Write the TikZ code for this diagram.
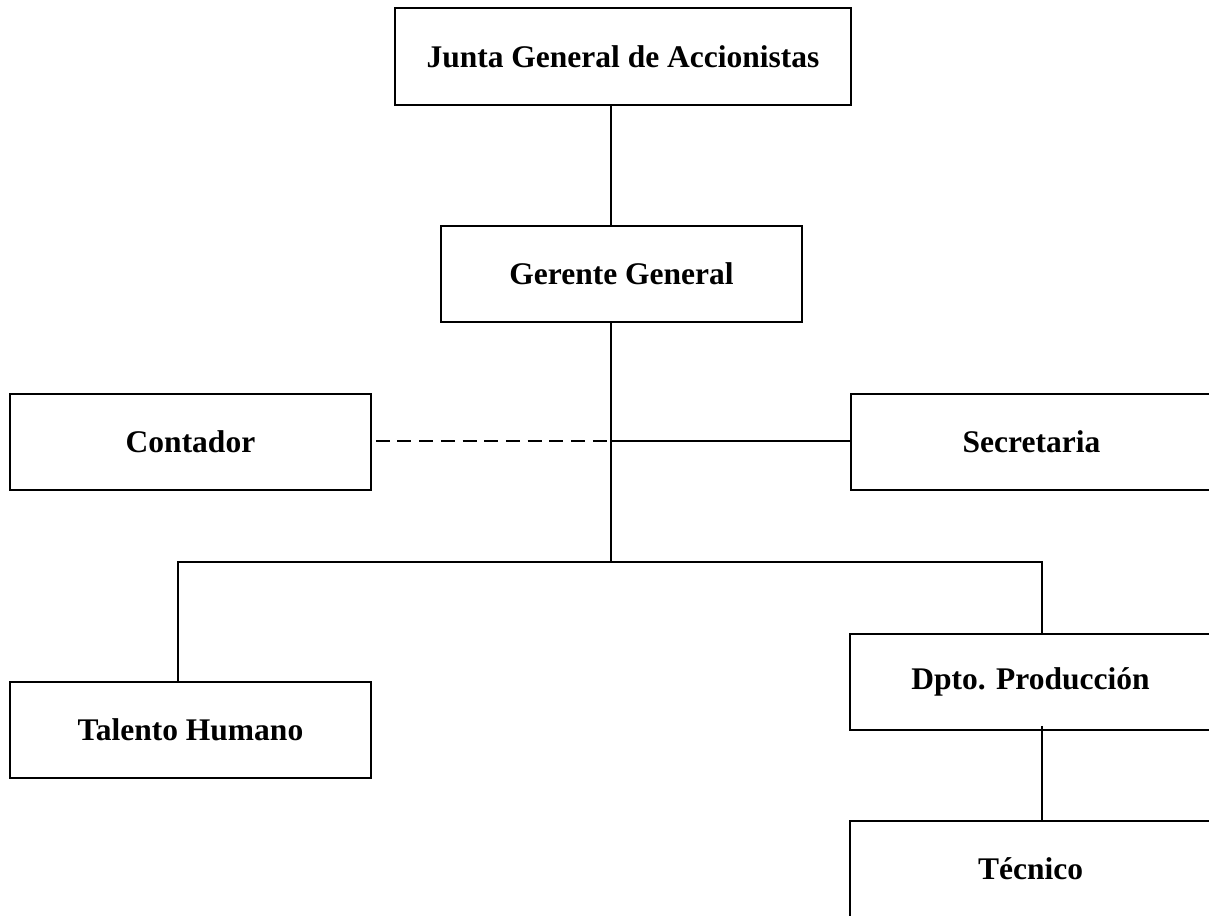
\documentclass[tikz,border=0pt]{standalone}
\usepackage{fontspec}
\setmainfont{Liberation Serif}
\usetikzlibrary{calc}
\begin{document}
\begin{tikzpicture}[x=1pt,y=-1pt,
  unit/.style={draw, line width=1.5pt, minimum width=361pt, minimum height=96pt,
    inner sep=0pt, font=\fontsize{31.5}{36}\selectfont\bfseries},
  link/.style={line width=1.5pt},
  dotlink/.style={line width=1.5pt, dash pattern=on 14pt off 7.7pt}]
  \useasboundingbox (0,0) rectangle (1209,915);
  \clip (0,0) rectangle (1209,915);

  % boxes of the organisation chart
  \node[unit, minimum width=456pt, minimum height=97pt] (junta) at (623,56.5) {Junta General de Accionistas};
  \node[unit] (gerente) at (621.5,274) {Gerente General};
  \node[unit] (contador) at (190.5,442) {Contador};
  \node[unit] (secretaria) at (1031.5,442) {Secretaria};
  \node[unit] (talento) at (190.5,730) {Talento Humano};
  \node[unit] (dpto) at (1030.5,682) {Dpto. Producción};
  \node[unit] (tecnico) at (1030.5,869) {Técnico};

  % junction points of the trunk line
  \coordinate (hub) at (611,441);
  \coordinate (fork) at (611,562);
  \coordinate (lbranch) at (178,562);
  \coordinate (rbranch) at (1042,562);

  % connectors
  \draw[link] (junta.south -| hub) -- (gerente.north -| hub);
  \draw[link] (gerente.south -| hub) -- (fork);
  \draw[dotlink] ($(contador.east)+(4,-1)$) -- (hub);
  \draw[link] (hub) -- (secretaria.west |- hub);
  \draw[link] (fork) -- (lbranch) -- (lbranch |- talento.north);
  \draw[link] (fork) -- (rbranch) -- (rbranch |- dpto.north);
  \draw[link] ($(rbranch |- dpto.south)+(0,-5)$) -- (rbranch |- tecnico.north);
\end{tikzpicture}
\end{document}
